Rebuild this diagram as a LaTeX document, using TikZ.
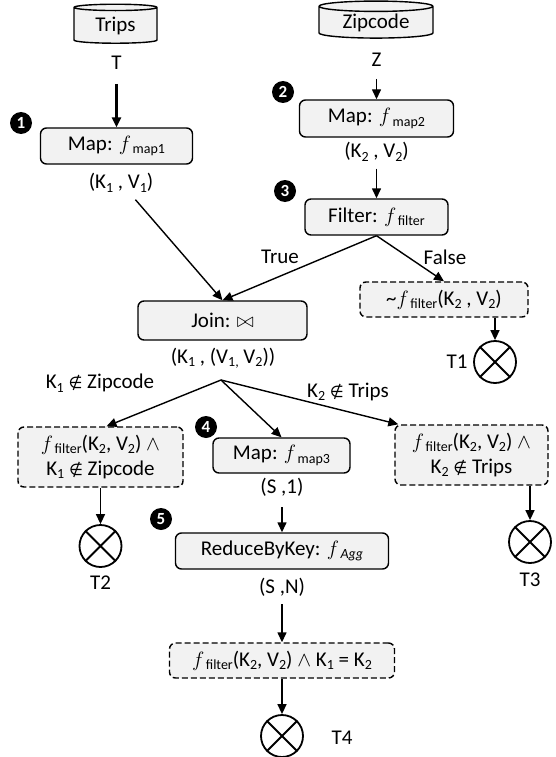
\documentclass[tikz,border=0pt]{standalone}
\usepackage{fontspec}
\setmainfont{Carlito}
\newfontfamily\symfam{DejaVu Sans}
\usetikzlibrary{shapes.geometric, arrows.meta}
\newcommand{\lo}[1]{\raisebox{-0.35ex}{\fontsize{14}{14}\selectfont #1}}
\newcommand{\ffun}[1]{$f$\kern1.5pt\lo{#1}}
\newcommand{\nin}{{\symfam\fontsize{16}{16}\selectfont ∉}}

\begin{document}
\begin{tikzpicture}[x=1pt,y=-1pt,
  txt/.style={font=\fontsize{21}{25}\selectfont, inner sep=1pt},
  opbox/.style={txt, draw, line width=1.4pt, rounded corners=6pt, fill=black!5, minimum height=36, align=center},
  condbox/.style={opbox, dash pattern=on 6pt off 3pt},
  store/.style={txt, cylinder, shape border rotate=90, aspect=0.15, draw, line width=1.4pt, fill=black!5},
  sink/.style={circle, draw, line width=1.8pt, minimum size=42, inner sep=0},
  badge/.style={circle, fill=black, text=white, inner sep=0, minimum size=22, font=\fontsize{17}{17}\selectfont\bfseries},
  arr/.style={line width=1.4pt, -{Triangle[length=10pt,width=9pt]}},
]
  \path[use as bounding box] (0,0) rectangle (556,757);

  \node[store, minimum width=83, minimum height=39] (trips) at (115.5,26) {Trips};
  \node[store, minimum width=114, minimum height=37] (zip) at (376,23) {Zipcode};
  \node[txt] (tin) at (116.5,63) {T};
  \node[txt] (zin) at (376.5,60) {Z};
  \node[opbox, minimum width=152] (map1) at (116.5,146) {Map: \ffun{map1}};
  \node[opbox, minimum width=154, minimum height=37] (map2) at (376.5,118.5) {Map: \ffun{map2}};
  \node[txt] (kv1) at (121,183) {(K\lo{1} , V\lo{1})};
  \node[txt] (kv2) at (376.5,152) {(K\lo{2} , V\lo{2})};
  \node[opbox, minimum width=143] (filter) at (376.5,217) {Filter: \ffun{filter}};
  \node[txt] (true) at (280,257) {True};
  \node[txt] (false) at (445,257) {False};
  \node[opbox, minimum width=169, minimum height=39] (join) at (222.5,320.5) {Join: $\bowtie$};
  \node[condbox, minimum width=168, minimum height=35] (nfilter) at (444,299.5) {\textasciitilde\ffun{filter}(K\lo{2} , V\lo{2})};
  \node[txt] (kvv) at (223,358) {(K\lo{1} , (V\lo{1,} V\lo{2}))};
  \coordinate (split) at (221,380);
  \node[txt] (cz) at (100,383) {K\lo{1} \nin\ Zipcode};
  \node[txt] (ct) at (348,392) {K\lo{2} \nin\ Trips};
  \node[condbox, minimum width=165, minimum height=60] (lbox) at (100.5,457) {\ffun{filter}(K\lo{2}, V\lo{2}) $\wedge$\\K\lo{1} \nin\ Zipcode};
  \node[opbox, minimum width=137, minimum height=35] (map3) at (281.5,455.5) {Map: \ffun{map3}};
  \node[condbox, minimum width=153, minimum height=60] (rbox) at (471.5,455) {\ffun{filter}(K\lo{2}, V\lo{2}) $\wedge$\\K\lo{2} \nin\ Trips};
  \node[txt] (s1) at (282,487) {(S ,1)};
  \node[opbox, minimum width=213] (reduce) at (282,551) {ReduceByKey: $f$\kern1.5pt\lo{\itshape Agg}};
  \node[txt] (sn) at (282,587) {(S ,N)};
  \node[condbox, minimum width=225, minimum height=35] (final) at (282,660.5) {\ffun{filter}(K\lo{2}, V\lo{2}) $\wedge$ K\lo{1} = K\lo{2}};

  \foreach \nm/\x/\y in {1/21/123, 2/283/92, 3/285/191, 4/206/427, 5/161/519}
    \node[badge] (b\nm) at (\x,\y) {\nm};

  \foreach \nm/\x/\y in {t1/495/362, t2/100.5/546, t3/530/542, t4/282/736}{
    \node[sink] (\nm) at (\x,\y) {};
    \draw[line width=1.8pt] (\nm.north west) -- (\nm.south east) (\nm.north east) -- (\nm.south west);
  }
  \node[txt] (lt1) at (457,362) {T1};
  \node[txt] (lt2) at (100.5,583) {T2};
  \node[txt] (lt3) at (530,580) {T3};
  \node[txt] (lt4) at (342,738) {T4};

  \draw[arr, line width=2.4pt, shorten <=13pt] (tin) -- (map1);
  \draw[arr, shorten <=11pt] (zin) -- (map2);
  \draw[arr, shorten <=6pt] (kv2) -- (filter);
  \draw[arr, shorten <=8pt] (kv1) -- (join.north);
  \draw[arr] (filter.south) -- (join.north);
  \draw[arr] (filter.south) -- (nfilter.north);
  \draw[arr] (nfilter.south -| t1) -- (t1);
  \draw[arr] (split) -- ([xshift=6pt]lbox.north);
  \draw[arr] (split) -- (map3.north);
  \draw[arr] (split) -- ([xshift=4pt]rbox.north west);
  \draw[arr] (lbox) -- (t2);
  \draw[arr] (rbox.south -| t3) -- (t3);
  \draw[arr, shorten <=10pt] (s1) -- (reduce);
  \draw[arr, shorten <=7pt] (sn) -- (final);
  \draw[arr] (final) -- (t4);
\end{tikzpicture}
\end{document}
